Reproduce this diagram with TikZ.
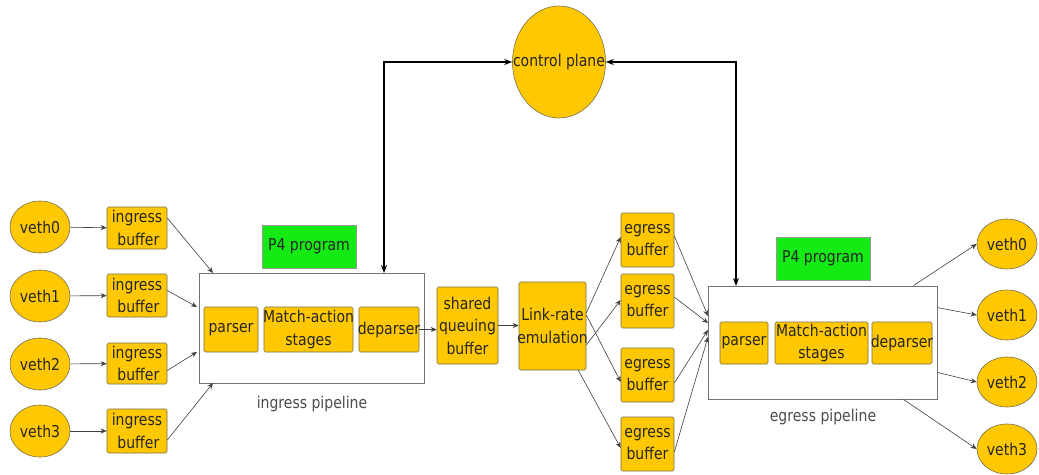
\documentclass[tikz,border=0pt]{standalone}
\usepackage{fontspec}
\setmainfont{DejaVu Sans}[FakeStretch=0.86]
\usetikzlibrary{arrows.meta,shapes.geometric}
\definecolor{gold}{RGB}{255,200,0}
\definecolor{pgreen}{RGB}{20,235,20}
\definecolor{edge}{RGB}{120,110,80}
\begin{document}
\begin{tikzpicture}[x=1pt,y=-1pt,
  every node/.style={font=\fontsize{16.3}{22.5}\selectfont, inner sep=0pt, text=black!85},
  yb/.style={draw=edge, fill=gold, rounded corners=1.5pt, align=center, line width=0.6pt},
  ov/.style={draw=edge, fill=gold, ellipse, line width=0.6pt},
  gb/.style={draw=black!40, fill=pgreen, line width=0.6pt},
  pipe/.style={draw=black!55, fill=white, line width=0.8pt},
  txt/.style={align=center},
  arr/.style={-{Stealth[length=6pt,width=5pt]}, draw=black!75, line width=0.6pt},
  carr/.style={{Stealth[length=8pt,width=6pt]}-{Stealth[length=8pt,width=6pt]}, draw=black, line width=1.3pt},
  lbl/.style={text=black!70}
]
\useasboundingbox (0,0) rectangle (1039,474);
\fill[white] (0,0) rectangle (1039,474);

% control plane
\node[ov, minimum width=93pt, minimum height=112pt] (cp) at (559,62) {};
\node[txt] (cpt) at (cp.center) {control plane};

% ingress side
\foreach \i/\y in {0/227,1/296,2/364,3/431}{
  \node[ov, minimum width=60pt, minimum height=52pt] (vi\i) at (40,\y) {veth\i};
}
\node[yb, minimum width=60pt, minimum height=42pt] (ib0) at (137,228) {ingress\\ \,buffer};
\node[yb, minimum width=60pt, minimum height=43pt] (ib1) at (137,295.5) {ingress\\ \,buffer};
\node[yb, minimum width=60pt, minimum height=41pt] (ib2) at (137,363.5) {ingress\\ \,buffer};
\node[yb, minimum width=60pt, minimum height=44pt] (ib3) at (137,431) {ingress\\ \,buffer};
\foreach \i in {0,1,2,3}{ \draw[arr] (vi\i) -- (ib\i); }

\node[pipe, minimum width=225pt, minimum height=110pt] (ip) at (311.5,328) {};
\node[gb, minimum width=94pt, minimum height=43pt] (p4i) at (309,246.5) {P4 program};
\node[yb, minimum width=54pt, minimum height=45pt] (pi) at (231,329.5) {parser};
\node[yb, minimum width=89pt, minimum height=45pt] (mi) at (308.5,329.5) {};
\node[txt] (mit) at (mi.center) {Match-action\\stages};
\node[yb, minimum width=60pt, minimum height=45pt] (di) at (389,329.5) {};
\node[txt] (dit) at (di.center) {deparser};
\node[lbl] (ipl) at (312,404) {ingress pipeline};

\coordinate (i0) at (213,273);
\coordinate (i1) at (197,307);
\coordinate (i2) at (197,352);
\coordinate (i3) at (213,383);
\draw[arr] ([yshift=10pt]ib0.east) -- (i0);
\draw[arr] ([yshift=5pt]ib1.east) -- (i1);
\draw[arr] ([yshift=-7pt]ib2.east) -- (i2);
\draw[arr] ([yshift=-9pt]ib3.east) -- (i3);

% middle
\node[yb, minimum width=61pt, minimum height=77pt] (sq) at (467.5,325.5) {shared\\queuing\\buffer};
\node[yb, minimum width=67pt, minimum height=88pt] (lr) at (552.5,326) {};
\node[txt] (lrt) at (lr.center) {Link-rate\\emulation};
\draw[arr] (di.east) -- (sq.west |- di.east);
\draw[arr] (sq.east) -- (lr.west |- sq.east);

\node[yb, minimum width=53pt, minimum height=54pt] (eb0) at (647.5,240) {egress\\buffer};
\node[yb, minimum width=53pt, minimum height=54pt] (eb1) at (647.5,301) {egress\\buffer};
\node[yb, minimum width=53pt, minimum height=54pt] (eb2) at (647.5,375) {egress\\buffer};
\node[yb, minimum width=53pt, minimum height=54pt] (eb3) at (647.5,444) {egress\\buffer};
\draw[arr] ([yshift=13pt]lr.east) -- ([yshift=3pt]eb0.west);
\draw[arr] ([yshift=-19pt]lr.east) -- ([yshift=1pt]eb1.west);
\draw[arr] ([yshift=11pt]lr.east) -- ([yshift=-7pt]eb2.west);
\draw[arr] ([xshift=-8pt]lr.south east) -- ([yshift=-4pt]eb3.west);

% egress pipeline
\node[pipe, minimum width=229pt, minimum height=113pt] (ep) at (822.5,342.5) {};
\node[gb, minimum width=94pt, minimum height=43pt] (p4e) at (823,258.5) {P4 program};
\node[yb, minimum width=48pt, minimum height=42pt] (pe) at (744,343) {};
\node[txt] (pet) at (pe.center) {parser};
\node[yb, minimum width=93pt, minimum height=42pt] (me) at (821.5,343) {};
\node[txt] (met) at (me.center) {Match-action\\stages};
\node[yb, minimum width=60pt, minimum height=42pt] (de) at (902,343) {};
\node[txt] (det) at (de.center) {deparser};
\node[lbl] (epl) at (823,417) {egress pipeline};

\coordinate (e0) at (708,316);
\coordinate (e1) at (708,323);
\coordinate (e2) at (708,330);
\coordinate (e3) at (708,337);
\draw[arr] ([yshift=4pt]eb0.east) -- (e0);
\draw[arr] ([yshift=4pt]eb1.east) -- (e1);
\draw[arr] ([yshift=-8pt]eb2.east) -- (e2);
\draw[arr] ([yshift=-8pt]eb3.east) -- (e3);

\foreach \i/\y in {0/244,1/315,2/382,3/449}{
  \node[ov, minimum width=60pt, minimum height=50pt] (vo\i) at (1007,\y) {veth\i};
}
\draw[arr] ([xshift=-24pt]ep.north east) -- (vo0.west);
\draw[arr] ([yshift=-22pt]ep.north east) -- (vo1.west);
\draw[arr] ([yshift=27pt]ep.south east) -- (vo2.west);
\draw[arr] ([xshift=-34pt]ep.south east) -- (vo3.west);

% control connections
\coordinate (ci) at (384,273);
\coordinate (ce) at (736,286);
\draw[carr] (ci) |- (cp.west);
\draw[carr] (ce) |- (cp.east);
\end{tikzpicture}
\end{document}
